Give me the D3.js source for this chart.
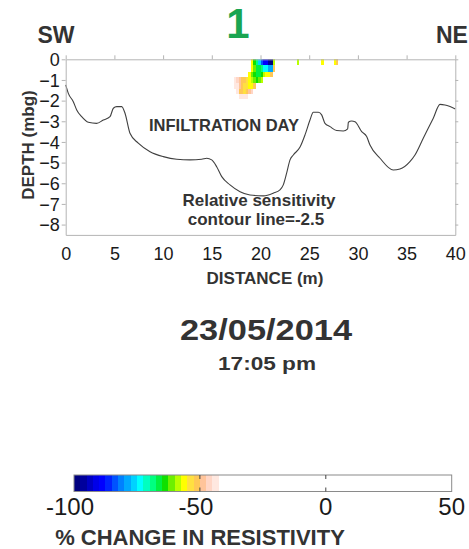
<!DOCTYPE html>
<html>
<head>
<meta charset="utf-8">
<script src="https://cdn.jsdelivr.net/npm/d3@7"></script>
<style>
  html, body { margin: 0; padding: 0; background: #fff; }
  svg { display: block; font-family: "Liberation Sans", Arial, sans-serif; }
</style>
</head>
<body>
<svg id="chart" width="469" height="549"></svg>
<script>
// Axis ticks
const distanceTicks = [0, 5, 10, 15, 20, 25, 30, 35, 40];
const depthTicks = [0, -1, -2, -3, -4, -5, -6, -7, -8];
const colorTicks = [-100, -50, 0, 50];

// Colour classes for % change in resistivity (2.5 % bands, white above -42.5)
const bandEdges = [-97.5, -95, -92.5, -90, -87.5, -85, -82.5, -80, -77.5, -75, -72.5, -70,
  -67.5, -65, -62.5, -60, -57.5, -55, -52.5, -50, -47.5, -45, -42.5];
const bandColors = ["#00007f", "#00009c", "#0000c4", "#0000e8", "#0000ff", "#0024ff", "#0052ff",
  "#0080ff", "#00a8ff", "#00d2ff", "#00ffff", "#00ffc0", "#00ff80", "#00f040", "#10e000",
  "#6cf000", "#b8ff00", "#ffff00", "#ffe040", "#ffc855", "#ffc49a", "#ffd6c6", "#ffe8e0", "#ffffff"];

// Inversion cells: columns 0.25 m wide from 17.0 m, rows bounded by cellRowTops (m below ground)
const cellColStart = 17.0;
const cellColWidth = 0.25;
const cellRowTops = [0, 0.3, 0.6, 0.87, 1.16, 1.45, 1.68, 1.9];
const cellRows = [
  [null, null, null, null, null, null, null, null, -57, -64, -68, -76, -84, -88, -89, -97, -98, -60, null, null],
  [null, null, null, null, null, null, null, null, -57, -62, -66, -67, -70, -74, -73, -79, -78, -52, null, null],
  [null, null, null, null, null, null, null, -57, -62, -65, -66, -66, -64, -58, -56, -57, -52, null, null, null],
  [null, -44, -46, -49, -51, -52, -55, -57, -58, -62, -64, -61, -59, null, null, null, null, null, null, null],
  [null, -44, -45, -49, -52, -53, -54, -56, -56, -51, null, null, null, null, null, null, null, null, null, null],
  [null, null, -44, -51, -52, -53, -51, -48, -46, null, null, null, null, null, null, null, null, null, null, null],
  [null, null, null, -44, -45, -45, -44, null, null, null, null, null, null, null, null, null, null, null, null, null]
];
// Isolated near-surface cells further along the line
const spotDistance = [23.75, 26.25, 27.5, 27.75];
const spotValue = [-58, -56, -56, -52];

// Relative sensitivity contour (-2.5)
const contourDistance = [0, 0.27, 0.78, 1.13, 1.64, 2.32, 3.18, 3.86, 4.55, 4.89, 5.24, 5.75, 6.09,
  6.6, 7.45, 8.66, 10.02, 11.4, 12.76, 13.96, 14.48, 14.99, 15.5, 16.02, 16.87, 17.9, 18.92,
  20.29, 21.31, 22.0, 22.34, 22.69, 23.03, 23.37, 24.06, 24.57, 25.08, 25.42, 25.94, 26.28,
  26.62, 27.14, 27.82, 28.5, 28.95, 29.02, 29.36, 29.7, 30.39, 30.9, 31.24, 32.27, 33.63,
  34.32, 35.34, 35.86, 36.71, 37.74, 38.43, 38.94, 39.46, 40];
const contourDepth = [-1.24, -1.65, -2.05, -2.45, -2.78, -3.05, -3.1, -2.94, -2.78, -2.37, -2.29,
  -2.29, -2.61, -3.58, -4.06, -4.47, -4.71, -4.84, -4.87, -4.84, -4.79, -4.87, -5.2, -5.68,
  -6.08, -6.41, -6.57, -6.61, -6.48, -6.32, -6.08, -5.5, -4.87, -4.63, -4.25, -3.66, -2.94,
  -2.56, -2.56, -2.69, -3.1, -3.26, -3.45, -3.47, -3.37, -3.05, -2.99, -3.02, -3.5, -3.74,
  -4.15, -4.79, -5.36, -5.31, -4.95, -4.63, -3.82, -2.85, -2.18, -2.21, -2.29, -2.4];

(function draw() {
  const svg = d3.select("#chart");
  const ink = "#333333";
  const frame = "#b4b4b4";

  const x = d3.scaleLinear().domain([0, 40]).range([65.7, 455.3]);
  const y = d3.scaleLinear().domain([0, -8.5]).range([59.3, 234.9]);
  const color = d3.scaleThreshold().domain(bandEdges).range(bandColors);

  // Cells
  const cells = [];
  cellRows.forEach((row, r) => row.forEach((v, c) => {
    if (v !== null) cells.push({ x0: cellColStart + c * cellColWidth, d0: cellRowTops[r], d1: cellRowTops[r + 1], v });
  }));
  spotDistance.forEach((d, i) => cells.push({ x0: d, d0: cellRowTops[0], d1: cellRowTops[1], v: spotValue[i] }));

  svg.append("g").selectAll("rect").data(cells).join("rect")
    .attr("x", d => x(d.x0))
    .attr("y", d => y(-d.d0))
    .attr("width", d => x(d.x0 + cellColWidth) - x(d.x0))
    .attr("height", d => y(-d.d1) - y(-d.d0))
    .attr("fill", d => color(d.v))
    .attr("shape-rendering", "crispEdges");

  // Sensitivity contour
  const line = d3.line().x(d => x(d[0])).y(d => y(d[1])).curve(d3.curveMonotoneX);
  svg.append("path")
    .datum(contourDistance.map((d, i) => [d, contourDepth[i]]))
    .attr("d", line)
    .attr("fill", "none")
    .attr("stroke", "#404040")
    .attr("stroke-width", 1.1);

  // Axes
  function styleAxis(g) {
    g.selectAll("path.domain").attr("stroke", frame);
    g.selectAll(".tick line").attr("stroke", frame);
    g.selectAll("text").attr("fill", "#1a1a1a");
  }
  const axisBottomG = svg.append("g").attr("transform", `translate(0,${y(-8.5)})`)
    .call(d3.axisBottom(x).tickValues(distanceTicks).tickSize(0).tickPadding(12).tickSizeOuter(0));
  axisBottomG.selectAll("text").attr("font-size", 18);
  styleAxis(axisBottomG);

  const axisTopG = svg.append("g").attr("transform", `translate(0,${y(0)})`)
    .call(d3.axisTop(x).tickValues(distanceTicks).tickSize(4).tickFormat("").tickSizeOuter(0));
  styleAxis(axisTopG);

  const axisLeftG = svg.append("g").attr("transform", `translate(${x(0)},0)`)
    .call(d3.axisLeft(y).tickValues(depthTicks).tickSize(4).tickPadding(2).tickSizeOuter(0));
  axisLeftG.selectAll("text").attr("font-size", 18).attr("dy", "0.34em");
  styleAxis(axisLeftG);

  const axisRightG = svg.append("g").attr("transform", `translate(${x(40)},0)`)
    .call(d3.axisRight(y).tickValues(depthTicks).tickSize(3).tickFormat("").tickSizeOuter(0));
  styleAxis(axisRightG);

  // Labels
  svg.append("text").attr("x", 56).attr("y", 43).attr("text-anchor", "middle")
    .attr("font-size", 23).attr("font-weight", "bold").attr("fill", ink).text("SW");
  svg.append("text").attr("x", 436).attr("y", 43)
    .attr("font-size", 23).attr("font-weight", "bold").attr("fill", ink).text("NE");
  svg.append("text").attr("x", 238).attr("y", 38).attr("text-anchor", "middle")
    .attr("font-size", 42).attr("font-weight", "bold").attr("fill", "#1aa552").text("1");

  svg.append("text").attr("transform", "translate(34,145) rotate(-90)").attr("text-anchor", "middle")
    .attr("font-size", 17).attr("font-weight", "bold").attr("fill", ink).text("DEPTH (mbg)");
  svg.append("text").attr("x", 265).attr("y", 284).attr("text-anchor", "middle")
    .attr("font-size", 17).attr("font-weight", "bold").attr("fill", ink).text("DISTANCE (m)");

  svg.append("text").attr("x", 224).attr("y", 131).attr("text-anchor", "middle")
    .attr("font-size", 16.5).attr("font-weight", "bold").attr("fill", ink).text("INFILTRATION DAY");
  svg.append("text").attr("x", 259).attr("y", 206).attr("text-anchor", "middle")
    .attr("font-size", 17).attr("font-weight", "bold").attr("fill", ink).text("Relative sensitivity");
  svg.append("text").attr("x", 256).attr("y", 225).attr("text-anchor", "middle")
    .attr("font-size", 17).attr("font-weight", "bold").attr("fill", ink).text("contour line=-2.5");

  svg.append("text").attr("x", 266).attr("y", 340).attr("text-anchor", "middle")
    .attr("font-size", 30).attr("font-weight", "bold").attr("fill", ink)
    .attr("textLength", 172).attr("lengthAdjust", "spacingAndGlyphs").text("23/05/2014");
  svg.append("text").attr("x", 267).attr("y", 370).attr("text-anchor", "middle")
    .attr("font-size", 19).attr("font-weight", "bold").attr("fill", ink)
    .attr("textLength", 98).attr("lengthAdjust", "spacingAndGlyphs").text("17:05 pm");

  // Colour bar
  const cx = d3.scaleLinear().domain([-100, 50]).range([74, 451.7]);
  const barTop = 475, barH = 16.5;
  const stops = [-100, ...bandEdges, 50];
  svg.append("g").selectAll("rect").data(d3.range(stops.length - 1)).join("rect")
    .attr("x", i => cx(stops[i]))
    .attr("y", barTop)
    .attr("width", i => cx(stops[i + 1]) - cx(stops[i]))
    .attr("height", barH)
    .attr("fill", i => bandColors[i])
    .attr("shape-rendering", "crispEdges");
  svg.append("rect").attr("x", cx(-100)).attr("y", barTop).attr("width", cx(50) - cx(-100)).attr("height", barH)
    .attr("fill", "none").attr("stroke", "#8a8a8a").attr("stroke-width", 1);
  const cbTicks = svg.append("g").selectAll("g").data(colorTicks.filter(v => v > -100 && v < 50)).join("g");
  cbTicks.append("line").attr("x1", d => cx(d)).attr("x2", d => cx(d))
    .attr("y1", barTop).attr("y2", barTop + 4).attr("stroke", "#444");
  cbTicks.append("line").attr("x1", d => cx(d)).attr("x2", d => cx(d))
    .attr("y1", barTop + barH - 4).attr("y2", barTop + barH).attr("stroke", "#444");

  svg.append("g").selectAll("text").data(colorTicks).join("text")
    .attr("x", d => cx(d) + (d < 0 ? -4 : 0))
    .attr("y", 515)
    .attr("text-anchor", "middle")
    .attr("font-size", 24)
    .attr("fill", "#1a1a1a")
    .text(d => String(d));

  svg.append("text").attr("x", 200).attr("y", 545).attr("text-anchor", "middle")
    .attr("font-size", 22).attr("font-weight", "bold").attr("fill", ink).text("% CHANGE IN RESISTIVITY");
})();
</script>
</body>
</html>
